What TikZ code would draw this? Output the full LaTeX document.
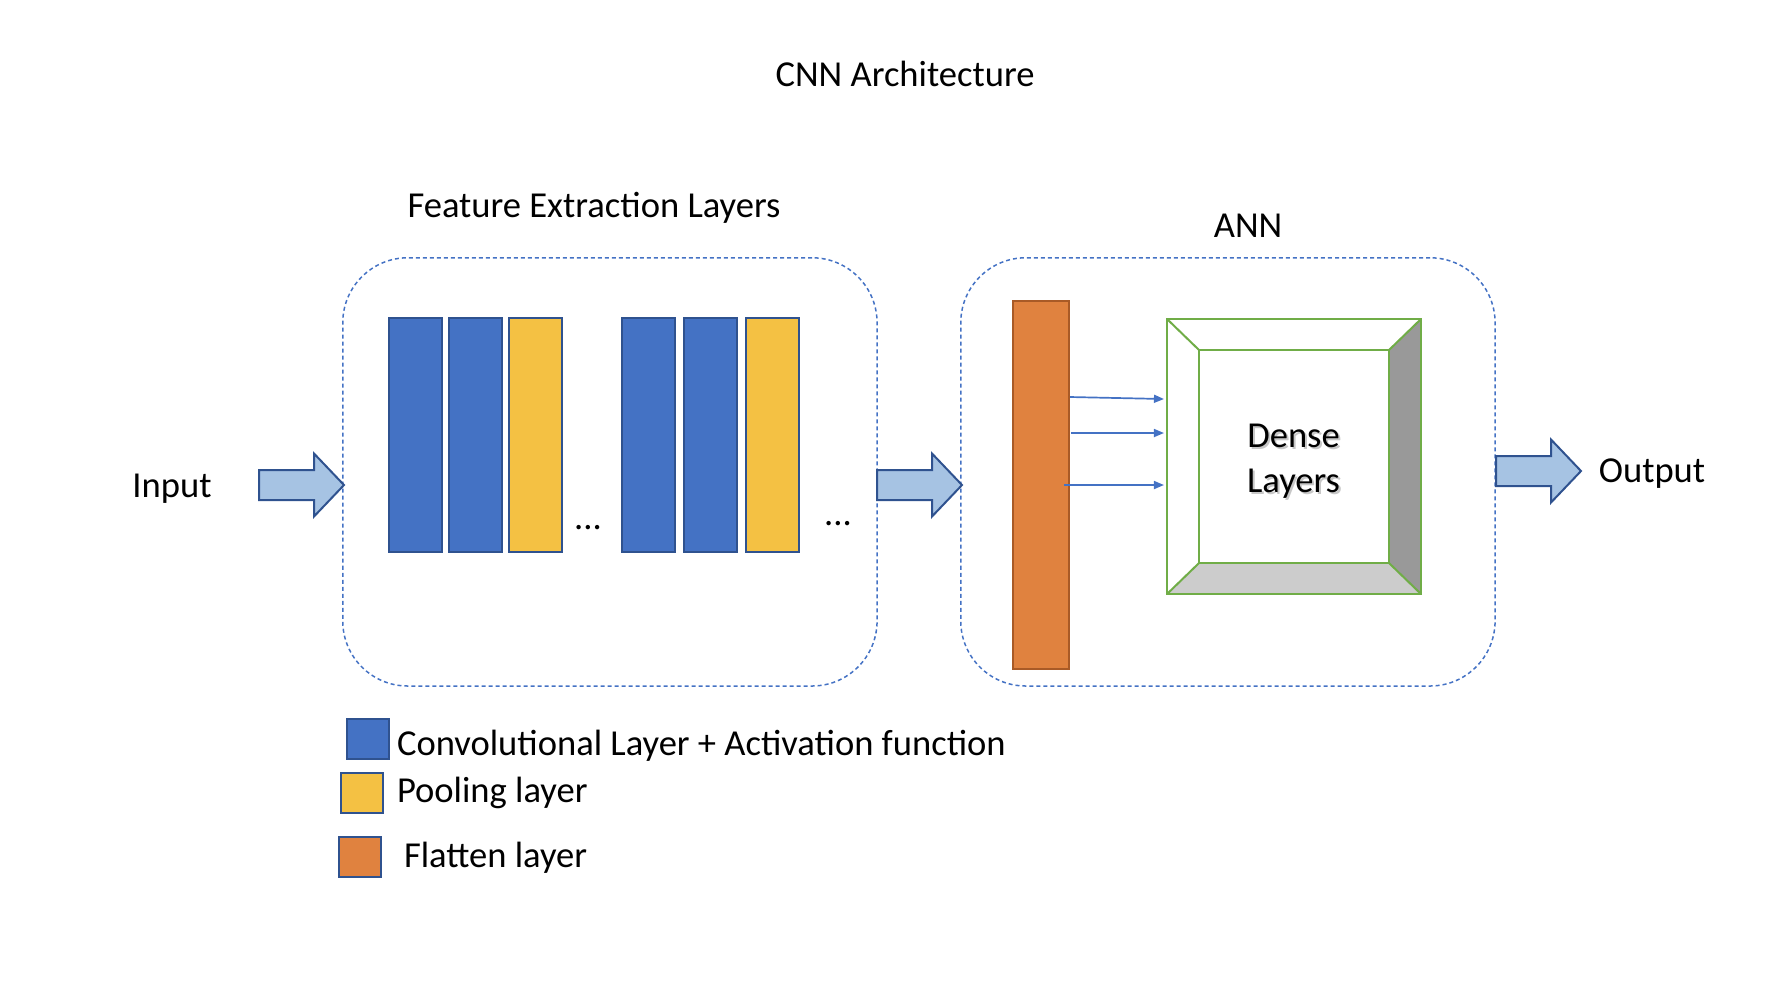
\documentclass[tikz,border=0pt]{standalone}
\usepackage{fontspec}
\setmainfont{Carlito}
\usepackage{tikz}
\usetikzlibrary{arrows.meta,calc}

\definecolor{convblue}{HTML}{4472C4}
\definecolor{convedge}{HTML}{2F528F}
\definecolor{poolyellow}{HTML}{F4C143}
\definecolor{flatorange}{HTML}{E0823F}
\definecolor{flatedge}{HTML}{A95A26}
\definecolor{arrowfill}{HTML}{A6C3E3}
\definecolor{densegreen}{HTML}{70AD47}
\definecolor{bevelright}{HTML}{999999}
\definecolor{bevelbottom}{HTML}{CCCCCC}

% block arrow, drawn from the middle of its tail
\newcommand{\blockarrow}[1]{%
  \draw[blockarrow] (#1) ++(0,-15) -- ++(55,0) -- ++(0,-16.5) -- ++(30,31.5)
    -- ++(-30,31.5) -- ++(0,-16.5) -- ++(-55,0) -- cycle;}

\begin{document}
\begin{tikzpicture}[x=0.01cm, y=-0.01cm,
    txt/.style={font=\fontsize{10.4}{12.8}\selectfont, inner sep=0pt, outer sep=0pt},
    bar/.style={draw=convedge, line width=0.02cm, minimum width=0.53cm, minimum height=2.34cm, anchor=north west, inner sep=0pt},
    conv/.style={bar, fill=convblue},
    pool/.style={bar, fill=poolyellow},
    stage/.style={draw=convblue, line width=0.015cm, dash pattern=on 0.04cm off 0.03cm, rounded corners=0.65cm, minimum width=5.34cm, minimum height=4.28cm, anchor=north west, inner sep=0pt},
    blockarrow/.style={draw=convedge, fill=arrowfill, line width=0.02cm, line join=miter},
    feed/.style={draw=convblue, line width=0.017cm, -{Triangle[length=0.1cm,width=0.08cm]}},
    bevel/.style={draw=densegreen, line width=0.02cm, line join=miter},
    legendbox/.style={draw=convedge, line width=0.02cm, minimum width=0.42cm, minimum height=0.40cm, inner sep=0pt}
  ]
  \useasboundingbox (0,0) rectangle (1770,996);

  % Titles
  \node[txt, anchor=base] (title) at (905,86) {CNN Architecture};
  \node[txt, anchor=base] (feltitle) at (594,217) {Feature Extraction Layers};
  \node[txt, anchor=base] (anntitle) at (1248,237) {ANN};

  % The two stages
  \node[stage] (fel) at (342,257) {};
  \node[stage] (ann) at (960,257) {};

  % Feature extraction layers
  \node[conv] (convA) at (388,317) {};
  \node[conv] (convB) at (448,317) {};
  \node[pool] (poolA) at (508,317) {};
  \node[txt, anchor=base] (dotsA) at (588,529) {...};
  \node[conv] (convC) at (621,317) {};
  \node[conv] (convD) at (683,317) {};
  \node[pool] (poolB) at (745,317) {};
  \node[txt, anchor=base] (dotsB) at (838,525) {...};

  % Input, output and the block arrows
  \node[txt, anchor=base] (input) at (172,497) {Input};
  \node[txt, anchor=base] (output) at (1652,482) {Output};
  \coordinate (intail) at (259,485);
  \coordinate (midtail) at (877,485);
  \coordinate (outtail) at (1496,471);
  \blockarrow{intail}
  \blockarrow{midtail}
  \blockarrow{outtail}

  % Flatten layer
  \node[draw=flatedge, fill=flatorange, line width=0.02cm, minimum width=0.56cm, minimum height=3.68cm, inner sep=0pt] (flatten) at (1041,485) {};

  % Dense layers
  \node[inner sep=0pt, outer sep=0pt, minimum width=1.90cm, minimum height=2.13cm] (dense) at (1294,456.5) {};
  \coordinate (dnw) at ($(dense.north west)+(-32,-31)$);
  \coordinate (dne) at ($(dense.north east)+(32,-31)$);
  \coordinate (dsw) at ($(dense.south west)+(-32,31)$);
  \coordinate (dse) at ($(dense.south east)+(32,31)$);
  \fill[bevelright] (dense.north east) -- (dne) -- (dse) -- (dense.south east) -- cycle;
  \fill[bevelbottom] (dense.south west) -- (dense.south east) -- (dse) -- (dsw) -- cycle;
  \draw[bevel] (dnw) rectangle (dse);
  \draw[bevel] (dense.north west) rectangle (dense.south east);
  \draw[bevel] (dnw) -- (dense.north west) (dne) -- (dense.north east)
    (dsw) -- (dense.south west) (dse) -- (dense.south east);
  \node[txt, align=center, text=black!22] (denseshadow) at ($(dense.center)+(1.5,7)$) {Dense\\Layers};
  \node[txt, align=center] (densetext) at ($(dense.center)+(-0.5,4.5)$) {Dense\\Layers};

  % Flatten to dense
  \draw[feed] ($(flatten.east)+(0,-88)$) -- ($(dense.west)+(-35,-57.5)$);
  \draw[feed] ($(flatten.east)+(1,-52)$) -- ($(dense.west)+(-35,-23.5)$);
  \draw[feed] ($(flatten.east)+(-6,0)$) -- ($(dense.west)+(-35,28.5)$);

  % Legend
  \node[legendbox, fill=convblue] (legconv) at (368,739) {};
  \node[legendbox, fill=poolyellow] (legpool) at (362,793) {};
  \node[legendbox, fill=flatorange] (legflat) at (360,856.5) {};
  \node[txt, anchor=base west] (legconvtext) at (397,755) {Convolutional Layer + Activation function};
  \node[txt, anchor=base west] (legpooltext) at (397,802) {Pooling layer};
  \node[txt, anchor=base west] (legflattext) at (404,867) {Flatten layer};
\end{tikzpicture}
\end{document}
